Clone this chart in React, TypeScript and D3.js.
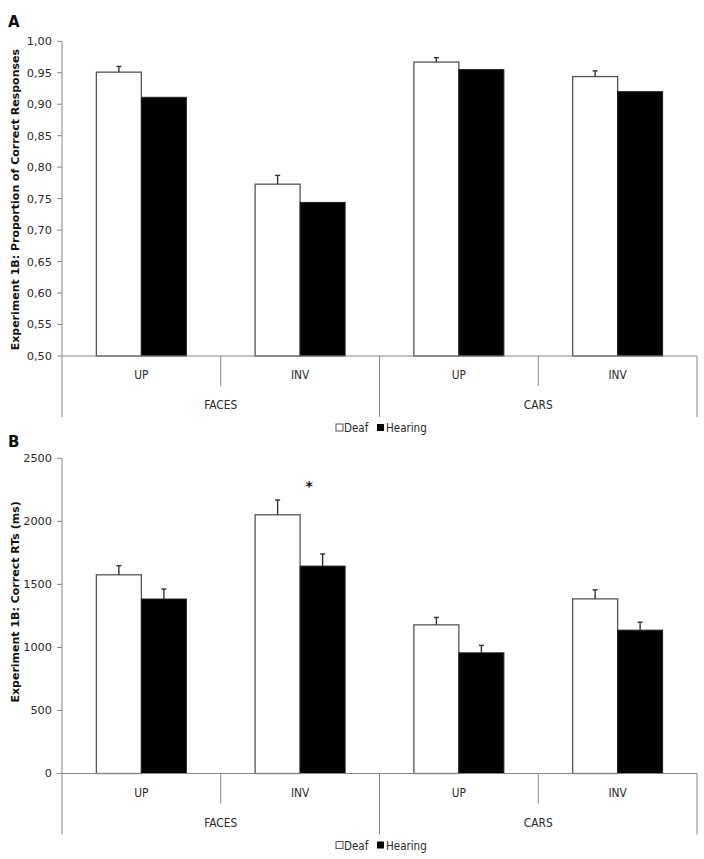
import React from "react";
import * as d3 from "d3";

const groups = ["FACES", "CARS"];
const conditions = ["UP", "INV", "UP", "INV"];
const seriesNames = ["Deaf", "Hearing"];

const accDeaf = [0.951, 0.773, 0.967, 0.944];
const accDeafErr = [0.009, 0.014, 0.007, 0.009];
const accHearing = [0.911, 0.744, 0.955, 0.92];
const accTicks = [0.5, 0.55, 0.6, 0.65, 0.7, 0.75, 0.8, 0.85, 0.9, 0.95, 1.0];

const rtDeaf = [1576, 2052, 1179, 1385];
const rtDeafErr = [72, 117, 59, 72];
const rtHearing = [1384, 1645, 957, 1137];
const rtHearingErr = [79, 96, 59, 63];
const rtTicks = [0, 500, 1000, 1500, 2000, 2500];

const AXIS = "#868686";
const TXT = "#2a2a2a";
const FONT = "'DejaVu Sans', Verdana, sans-serif";
const CAT_FONT = "'DejaVu Sans Condensed', 'DejaVu Sans', Tahoma, sans-serif";

type PanelProps = {
  letter: string;
  letterY: number;
  top: number;
  bottom: number;
  domain: [number, number];
  ticks: number[];
  fmt: (v: number) => string;
  deaf: number[];
  deafErr: number[] | null;
  hearing: number[];
  hearingErr: number[] | null;
  title: string;
  titleShift: number;
  star?: { index: number; value: number };
};

const X0 = 62;
const X1 = 697;

function Panel(p: PanelProps) {
  const y = d3.scaleLinear().domain(p.domain).range([p.bottom, p.top]);
  const xCond = d3
    .scaleBand<number>()
    .domain(d3.range(conditions.length))
    .range([X0, X1])
    .paddingInner(0)
    .paddingOuter(0);
  const xSeries = d3
    .scaleBand<string>()
    .domain(seriesNames)
    .range([0, xCond.step()])
    .paddingInner(0)
    .paddingOuter(0.764);
  const xGroup = d3.scaleBand<string>().domain(groups).range([X0, X1]);
  const bw = xSeries.bandwidth();
  const base = p.bottom;
  const shortLen = 30;
  const longLen = 61;
  const midY = (p.top + p.bottom) / 2 + p.titleShift;

  const bars: React.ReactNode[] = [];
  conditions.forEach((_, i) => {
    const gx = xCond(i)!;
    const xd = gx + xSeries("Deaf")!;
    const xh = gx + xSeries("Hearing")!;
    bars.push(
      <rect
        key={"d" + i}
        x={xd}
        y={y(p.deaf[i])}
        width={bw}
        height={base - y(p.deaf[i])}
        fill="#fff"
        stroke="#555"
        strokeWidth={1.3}
      />
    );
    bars.push(
      <rect
        key={"h" + i}
        x={xh}
        y={y(p.hearing[i])}
        width={bw}
        height={base - y(p.hearing[i])}
        fill="#000"
        stroke="#222"
        strokeWidth={1}
      />
    );
    const errs: [number, number[] | null, number[]][] = [
      [xd + bw / 2, p.deafErr, p.deaf],
      [xh + bw / 2, p.hearingErr, p.hearing],
    ];
    errs.forEach(([cx, e, v], k) => {
      if (!e) return;
      bars.push(
        <g key={"e" + i + k} stroke="#333" strokeWidth={1.4}>
          <line x1={cx} x2={cx} y1={y(v[i])} y2={y(v[i] + e[i])} />
          <line x1={cx - 2.5} x2={cx + 2.5} y1={y(v[i] + e[i])} y2={y(v[i] + e[i])} />
        </g>
      );
    });
  });

  return (
    <g>
      <text x={8} y={p.letterY} fontFamily={FONT} fontWeight="bold" fontSize={15} fill="#111">
        {p.letter}
      </text>
      <text
        transform={`translate(19,${midY}) rotate(-90)`}
        textAnchor="middle"
        fontFamily={FONT}
        fontWeight="bold"
        fontSize={11}
        fill="#111"
      >
        {p.title}
      </text>
      {/* y axis */}
      <line x1={X0} x2={X0} y1={p.top} y2={p.bottom} stroke={AXIS} strokeWidth={1} />
      {p.ticks.map((t) => (
        <g key={t}>
          <line x1={X0 - 5} x2={X0} y1={y(t)} y2={y(t)} stroke={AXIS} />
          <text
            x={52}
            y={y(t)}
            dy="0.35em"
            textAnchor="end"
            fontFamily={FONT}
            fontSize={11.3}
            fill={TXT}
          >
            {p.fmt(t)}
          </text>
        </g>
      ))}
      {bars}
      {/* x axis */}
      <line x1={X0} x2={X1} y1={base} y2={base} stroke={AXIS} strokeWidth={1} />
      {d3.range(conditions.length + 1).map((i) => {
        const xx = i < conditions.length ? xCond(i)! : X1;
        const long = i % 2 === 0;
        return (
          <line
            key={"div" + i}
            x1={xx}
            x2={xx}
            y1={base}
            y2={base + (long ? longLen : shortLen)}
            stroke={AXIS}
          />
        );
      })}
      {conditions.map((c, i) => (
        <text
          key={"c" + i}
          x={xCond(i)! + xCond.bandwidth() / 2}
          y={base + 19}
          dy="0.35em"
          textAnchor="middle"
          fontFamily={CAT_FONT}
          fontSize={11.8}
          fill={TXT}
        >
          {c}
        </text>
      ))}
      {groups.map((g) => (
        <text
          key={g}
          x={xGroup(g)! + xGroup.bandwidth() / 2}
          y={base + 49}
          dy="0.35em"
          textAnchor="middle"
          fontFamily={CAT_FONT}
          fontSize={11.8}
          fill={TXT}
        >
          {g}
        </text>
      ))}
      {/* legend */}
      <g transform={`translate(336,${base + 72})`} fontFamily={CAT_FONT} fontSize={11.5} fill={TXT}>
        <rect x={0} y={-4} width={7} height={7} fill="#fff" stroke="#555" strokeWidth={1} />
        <text x={8} y={0} dy="0.35em">
          {seriesNames[0]}
        </text>
        <rect x={41} y={-4} width={7} height={7} fill="#000" />
        <text x={50} y={0} dy="0.35em">
          {seriesNames[1]}
        </text>
      </g>
      {p.star && (
        <text
          x={xCond(p.star.index)! + xCond.step() / 2 + 9}
          y={y(p.star.value)}
          dy="0.6em"
          textAnchor="middle"
          fontFamily={FONT}
          fontWeight="bold"
          fontSize={14}
          fill="#111"
        >
          *
        </text>
      )}
    </g>
  );
}

export default function App() {
  const fmtAcc = (v: number) => d3.format(".2f")(v).replace(".", ",");
  const fmtRt = (v: number) => String(v);
  return (
    <div style={{ position: "absolute", left: 0, top: 0 }}>
      <svg width={704} height={859} style={{ display: "block", background: "#fff" }}>
        <rect width={704} height={859} fill="#fff" />
        <Panel
          letter="A"
          letterY={27}
          top={41.3}
          bottom={356}
          domain={[0.5, 1.0]}
          ticks={accTicks}
          fmt={fmtAcc}
          deaf={accDeaf}
          deafErr={accDeafErr}
          hearing={accHearing}
          hearingErr={null}
          title="Experiment 1B: Proportion of Correct Responses"
          titleShift={1}
        />
        <Panel
          letter="B"
          letterY={447}
          top={458.3}
          bottom={773.5}
          domain={[0, 2500]}
          ticks={rtTicks}
          fmt={fmtRt}
          deaf={rtDeaf}
          deafErr={rtDeafErr}
          hearing={rtHearing}
          hearingErr={rtHearingErr}
          title="Experiment 1B: Correct RTs (ms)"
          titleShift={-14}
          star={{ index: 1, value: 2310 }}
        />
      </svg>
    </div>
  );
}
